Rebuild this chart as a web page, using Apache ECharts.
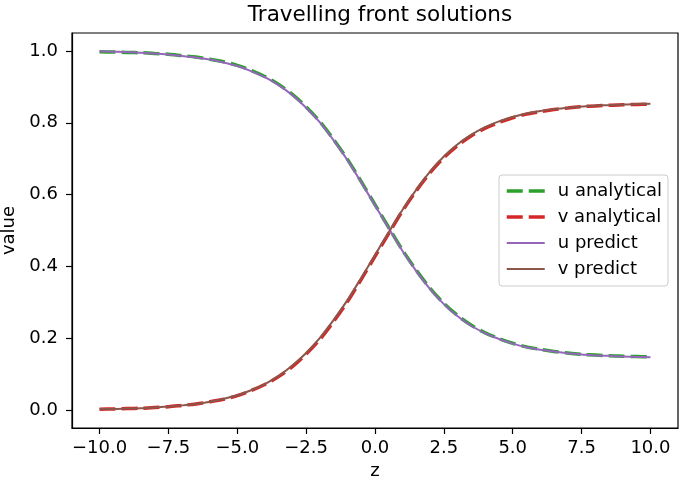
<!DOCTYPE html>
<html>
<head>
<meta charset="utf-8">
<script src="https://cdn.jsdelivr.net/npm/echarts@6/dist/echarts.min.js"></script>
<style>
  html, body { margin: 0; padding: 0; background: #fff; }
  #chart { width: 685px; height: 483px; }
</style>
</head>
<body>
<div id="chart"></div>
<script>
// z grid, -10 .. 10 step 0.5
const zValues = [-10, -9.5, -9, -8.5, -8, -7.5, -7, -6.5, -6, -5.5, -5, -4.5, -4, -3.5, -3, -2.5, -2, -1.5, -1, -0.5,
  0, 0.5, 1, 1.5, 2, 2.5, 3, 3.5, 4, 4.5, 5, 5.5, 6, 6.5, 7, 7.5, 8, 8.5, 9, 9.5, 10];

const uAnalytical = [0.998, 0.997, 0.996, 0.995, 0.993, 0.991, 0.987, 0.983, 0.977, 0.970, 0.960, 0.946, 0.929, 0.907, 0.879, 0.844, 0.803, 0.753, 0.698, 0.636,
  0.572, 0.508, 0.445, 0.389, 0.339, 0.297, 0.263, 0.236, 0.215, 0.199, 0.186, 0.176, 0.169, 0.163, 0.159, 0.155, 0.153, 0.151, 0.150, 0.149, 0.148];
const vAnalytical = [0.002, 0.003, 0.004, 0.005, 0.007, 0.009, 0.013, 0.017, 0.023, 0.030, 0.040, 0.054, 0.071, 0.093, 0.121, 0.156, 0.197, 0.247, 0.302, 0.364,
  0.428, 0.492, 0.555, 0.611, 0.661, 0.703, 0.737, 0.764, 0.785, 0.801, 0.814, 0.824, 0.831, 0.837, 0.841, 0.845, 0.847, 0.849, 0.850, 0.851, 0.852];
const uPredict = [0.999, 0.998, 0.997, 0.995, 0.993, 0.990, 0.986, 0.982, 0.976, 0.968, 0.958, 0.944, 0.927, 0.905, 0.877, 0.842, 0.801, 0.751, 0.696, 0.634,
  0.570, 0.506, 0.443, 0.387, 0.337, 0.295, 0.261, 0.234, 0.214, 0.198, 0.185, 0.175, 0.168, 0.163, 0.158, 0.155, 0.152, 0.151, 0.149, 0.148, 0.147];
const vPredict = [0.003, 0.003, 0.004, 0.005, 0.007, 0.010, 0.013, 0.017, 0.023, 0.031, 0.041, 0.055, 0.072, 0.095, 0.124, 0.159, 0.201, 0.251, 0.306, 0.368,
  0.432, 0.495, 0.558, 0.614, 0.664, 0.706, 0.740, 0.767, 0.788, 0.804, 0.816, 0.826, 0.833, 0.838, 0.842, 0.845, 0.848, 0.849, 0.851, 0.852, 0.853];

const xTicks = [-10, -7.5, -5, -2.5, 0, 2.5, 5, 7.5, 10];
const yTicks = [0, 0.2, 0.4, 0.6, 0.8, 1.0];

const FONT = "DejaVu Sans";
const DASH = [16, 6];

function pairs(ys) {
  return zValues.map((z, i) => [z, ys[i]]);
}

function fmt(v) {
  const s = Math.abs(v).toFixed(1);
  return v < 0 ? "\u2212" + s : s;
}

function lineSeries(name, ys, color, dashed) {
  return {
    name: name,
    type: "line",
    data: pairs(ys),
    symbol: "none",
    smooth: 0.3,
    animation: false,
    lineStyle: dashed
      ? { color: color, width: 3.5, type: DASH }
      : { color: color, width: 2 },
    itemStyle: { color: color }
  };
}

function legendItem(name, color, dashed) {
  return {
    name: name,
    itemStyle: { opacity: 0 },
    lineStyle: dashed
      ? { color: color, width: 3.5, type: DASH, opacity: 1 }
      : { color: color, width: 2, type: "solid", opacity: 1 }
  };
}

const chart = echarts.init(document.getElementById("chart"));
chart.setOption({
  backgroundColor: "#fff",
  animation: false,
  textStyle: { fontFamily: FONT },
  title: {
    text: "Travelling front solutions",
    left: 375,
    textAlign: "center",
    top: -1,
    textStyle: { fontFamily: FONT, fontSize: 21.5, fontWeight: "normal", color: "#000" }
  },
  grid: {
    left: 72, right: 7, top: 33, bottom: 55,
    outerBoundsMode: "none",
    containLabel: false,
    show: true, borderColor: "#000", borderWidth: 1.2, backgroundColor: "transparent"
  },
  legend: {
    orient: "vertical",
    left: 499,
    top: 175,
    padding: [7, 6, 8, 6],
    itemWidth: 38,
    itemHeight: 14,
    itemGap: 8,
    backgroundColor: "rgba(255,255,255,0.8)",
    borderColor: "#ccc",
    borderWidth: 1,
    borderRadius: 3,
    textStyle: { fontFamily: FONT, fontSize: 18, color: "#000", padding: [0, 0, 0, 8] },
    data: [
      legendItem("u analytical", "#2ca02c", true),
      legendItem("v analytical", "#d62728", true),
      legendItem("u predict", "#9467bd", false),
      legendItem("v predict", "#8c564b", false)
    ]
  },
  xAxis: {
    type: "value",
    min: -11,
    max: 11,
    name: "z",
    nameLocation: "middle",
    nameGap: 30,
    nameTextStyle: { fontFamily: FONT, fontSize: 18, color: "#000" },
    axisLine: { onZero: false, lineStyle: { color: "#000", width: 1.2 } },
    axisTick: { show: true, length: 6, customValues: xTicks, lineStyle: { color: "#000", width: 1.2 } },
    axisLabel: { customValues: xTicks, formatter: fmt, margin: 11, fontFamily: FONT, fontSize: 18, color: "#000" },
    splitLine: { show: false }
  },
  yAxis: {
    type: "value",
    min: -0.05,
    max: 1.05,
    name: "value",
    nameLocation: "middle",
    nameGap: 49,
    nameTextStyle: { fontFamily: FONT, fontSize: 18, color: "#000" },
    axisLine: { show: true, onZero: false, lineStyle: { color: "#000", width: 1.2 } },
    axisTick: { show: true, length: 6, customValues: yTicks, lineStyle: { color: "#000", width: 1.2 } },
    axisLabel: { customValues: yTicks, formatter: fmt, margin: 14, fontFamily: FONT, fontSize: 18, color: "#000" },
    splitLine: { show: false }
  },
  series: [
    lineSeries("u analytical", uAnalytical, "#2ca02c", true),
    lineSeries("v analytical", vAnalytical, "#d62728", true),
    lineSeries("u predict", uPredict, "#9467bd", false),
    lineSeries("v predict", vPredict, "#8c564b", false)
  ]
});
</script>
</body>
</html>
